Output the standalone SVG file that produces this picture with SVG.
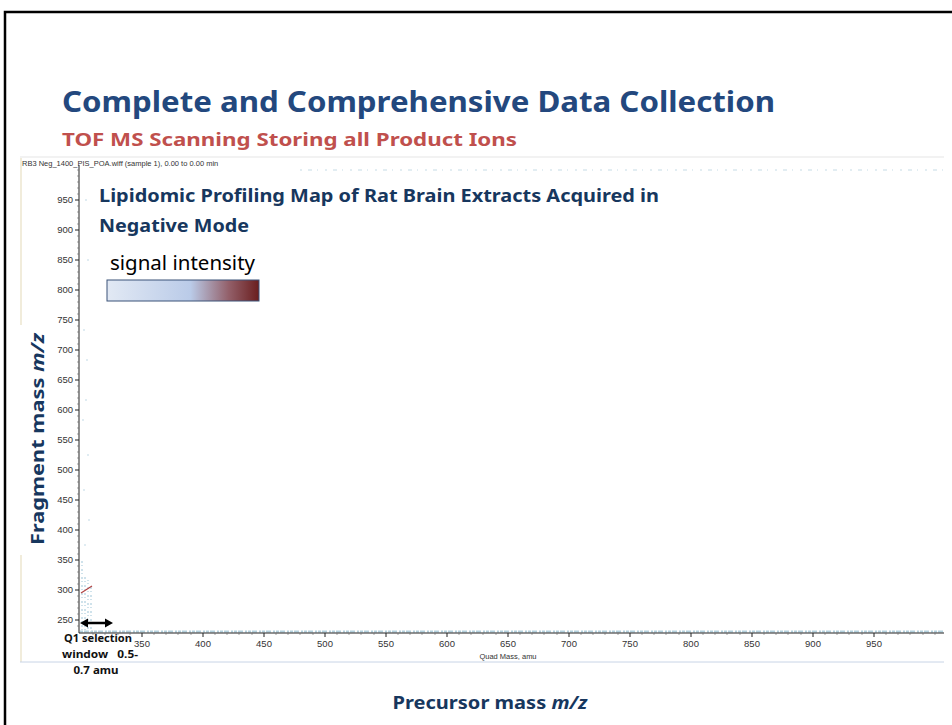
<svg xmlns="http://www.w3.org/2000/svg" width="952" height="725" viewBox="0 0 952 725">
<defs>
<style>
.t{font-family:"Noto Sans","Open Sans",sans-serif;font-weight:bold}
.ax{font-family:"Liberation Sans",Arial,sans-serif;font-size:9.5px;fill:#333}
.tk{stroke:#222;stroke-width:1}
.mt{stroke:#666;stroke-width:0.6}
.dot{fill:#a9cbdb}
</style>
<linearGradient id="g" x1="0" y1="0" x2="1" y2="0">
<stop offset="0" stop-color="#e2e9f4"/>
<stop offset="0.55" stop-color="#bacbe8"/>
<stop offset="0.8" stop-color="#93606a"/>
<stop offset="1" stop-color="#6a1e1e"/>
</linearGradient>
</defs>
<rect width="952" height="725" fill="#fff"/>
<g id="frame">
<path d="M5 725 V12 H952" fill="none" stroke="#000" stroke-width="2.5"/>
</g>
<g id="titles">
<text class="t" x="62" y="112" font-size="29" fill="#23487e" textLength="713" lengthAdjust="spacingAndGlyphs">Complete and Comprehensive Data Collection</text>
<text class="t" x="62" y="146" font-size="18.5" fill="#c0504d" textLength="455" lengthAdjust="spacingAndGlyphs">TOF MS Scanning Storing all Product Ions</text>
</g>
<g id="plot">
<line x1="20" y1="157" x2="944" y2="157" stroke="#eeeeee" stroke-width="1.5"/>
<line x1="21" y1="158" x2="21" y2="325" stroke="#ece6cf" stroke-width="1.5"/>
<line x1="21" y1="555" x2="21" y2="662" stroke="#ece6cf" stroke-width="1.5"/>
<line x1="20" y1="662" x2="944" y2="662" stroke="#c8d4e6" stroke-width="1"/>
<text x="22" y="166" font-family="Liberation Sans,Arial,sans-serif" font-size="7.5" fill="#333">RB3 Neg_1400_PIS_POA.wiff (sample 1), 0.00 to 0.00 min</text>
<g id="data">
<path d="M80 631.5 H944" stroke="#b3d1de" stroke-width="2" stroke-dasharray="3 1 5 2 2 1"/>
<path d="M300 170 H944" stroke="#c5dbe5" stroke-width="1" stroke-dasharray="2 6 4 5 1 7"/>
<path d="M82 630 L82 560 M85 630 L85 575 M88 632 L88 580 M91 632 L91 585" stroke="#c0d9e5" stroke-width="1.5" stroke-dasharray="1 2 2 3"/>
<path d="M81 593 L92 586" stroke="#b04040" stroke-width="1.2"/>
<circle class="dot" cx="86" cy="200" r="0.7"/><circle class="dot" cx="88" cy="260" r="0.7"/>
<circle class="dot" cx="84" cy="330" r="0.7"/><circle class="dot" cx="87" cy="360" r="0.7"/>
<circle class="dot" cx="86" cy="400" r="0.7"/><circle class="dot" cx="88" cy="455" r="0.7"/>
<circle class="dot" cx="84" cy="490" r="0.7"/><circle class="dot" cx="89" cy="520" r="0.7"/>
<circle class="dot" cx="85" cy="545" r="0.7"/><circle class="dot" cx="83" cy="420" r="0.7"/>
</g>
<line x1="79" y1="165" x2="79" y2="633" class="tk"/>
<line x1="79" y1="633" x2="944" y2="633" class="tk"/>
<path class="mt" d="M77 206H79M77 212H79M77 218H79M77 224H79M77 236H79M77 242H79M77 248H79M77 254H79M77 266H79M77 272H79M77 278H79M77 284H79M77 296H79M77 302H79M77 308H79M77 314H79M77 326H79M77 332H79M77 338H79M77 344H79M77 356H79M77 362H79M77 368H79M77 374H79M77 386H79M77 392H79M77 398H79M77 404H79M77 416H79M77 422H79M77 428H79M77 434H79M77 446H79M77 452H79M77 458H79M77 464H79M77 476H79M77 482H79M77 488H79M77 494H79M77 506H79M77 512H79M77 518H79M77 524H79M77 536H79M77 542H79M77 548H79M77 554H79M77 566H79M77 572H79M77 578H79M77 584H79M77 596H79M77 602H79M77 608H79M77 614H79M77 626H79M77 170H79M77 176H79M77 182H79M77 188H79M77 194H79"/>
<path class="tk" d="M75 200H79M75 230H79M75 260H79M75 290H79M75 320H79M75 350H79M75 380H79M75 410H79M75 440H79M75 470H79M75 500H79M75 530H79M75 560H79M75 590H79M75 620H79"/>
<g class="ax" text-anchor="end">
<text x="73" y="203">950</text><text x="73" y="233">900</text><text x="73" y="263">850</text><text x="73" y="293">800</text><text x="73" y="323">750</text><text x="73" y="353">700</text><text x="73" y="383">650</text><text x="73" y="413">600</text><text x="73" y="443">550</text><text x="73" y="473">500</text><text x="73" y="503">450</text><text x="73" y="533">400</text><text x="73" y="563">350</text><text x="73" y="593">300</text><text x="73" y="623">250</text>
</g>
<path class="tk" d="M142 633V637M203 633V637M264 633V637M325 633V637M386 633V637M447 633V637M508 633V637M569 633V637M630 633V637M691 633V637M752 633V637M813 633V637M874 633V637"/>
<path class="mt" d="M154 633V635M166 633V635M178 633V635M191 633V635M215 633V635M227 633V635M239 633V635M252 633V635M276 633V635M288 633V635M300 633V635M313 633V635M337 633V635M349 633V635M361 633V635M374 633V635M398 633V635M410 633V635M422 633V635M435 633V635M459 633V635M471 633V635M483 633V635M496 633V635M520 633V635M532 633V635M544 633V635M557 633V635M581 633V635M593 633V635M605 633V635M618 633V635M642 633V635M654 633V635M666 633V635M679 633V635M703 633V635M715 633V635M727 633V635M740 633V635M764 633V635M776 633V635M788 633V635M801 633V635M825 633V635M837 633V635M849 633V635M862 633V635M886 633V635M898 633V635M910 633V635M923 633V635M935 633V635M130 633V635M118 633V635M105 633V635M93 633V635"/>
<g class="ax" text-anchor="middle">
<text x="142" y="647">350</text><text x="203" y="647">400</text><text x="264" y="647">450</text><text x="325" y="647">500</text><text x="386" y="647">550</text><text x="447" y="647">600</text><text x="508" y="647">650</text><text x="569" y="647">700</text><text x="630" y="647">750</text><text x="691" y="647">800</text><text x="752" y="647">850</text><text x="813" y="647">900</text><text x="874" y="647">950</text>
<text x="508" y="659" font-size="7.5">Quad Mass, amu</text>
</g>
</g>
<g id="map-title">
<text class="t" x="99" y="202" font-size="18.5" fill="#17375e" textLength="560" lengthAdjust="spacingAndGlyphs">Lipidomic Profiling Map of Rat Brain Extracts Acquired in</text>
<text class="t" x="99" y="232" font-size="18.5" fill="#17375e" textLength="150" lengthAdjust="spacingAndGlyphs">Negative Mode</text>
</g>
<g id="legend">
<text x="110" y="270" font-family="Noto Sans,Open Sans,sans-serif" font-size="19" fill="#000" textLength="145" lengthAdjust="spacingAndGlyphs">signal intensity</text>
<rect x="107" y="280" width="152" height="21" fill="url(#g)" stroke="#3b5378" stroke-width="1"/>
</g>
<g id="y-label">
<text class="t" transform="translate(44 439) rotate(-90)" text-anchor="middle" font-size="18.5" fill="#17375e" textLength="212" lengthAdjust="spacingAndGlyphs">Fragment mass <tspan font-style="italic">m/z</tspan></text>
</g>
<g id="x-label">
<text class="t" x="490" y="709" text-anchor="middle" font-size="18.5" fill="#17375e" textLength="195" lengthAdjust="spacingAndGlyphs">Precursor mass <tspan font-style="italic">m/z</tspan></text>
</g>
<g id="connectors">
<line x1="84" y1="623" x2="109" y2="623" stroke="#000" stroke-width="2.5"/>
<path d="M80 623 L88 618.5 L88 627.5 Z M113 623 L105 618.5 L105 627.5 Z" fill="#000"/>
</g>
<g id="q1-note" font-family="Noto Sans,Open Sans,sans-serif" font-weight="bold" font-size="11" fill="#111" text-anchor="middle">
<text x="98" y="642" textLength="68" lengthAdjust="spacingAndGlyphs">Q1 selection</text>
<text x="100" y="658" textLength="76" lengthAdjust="spacingAndGlyphs" xml:space="preserve">window   0.5-</text>
<text x="96" y="674" textLength="45" lengthAdjust="spacingAndGlyphs">0.7 amu</text>
</g>
</svg>
